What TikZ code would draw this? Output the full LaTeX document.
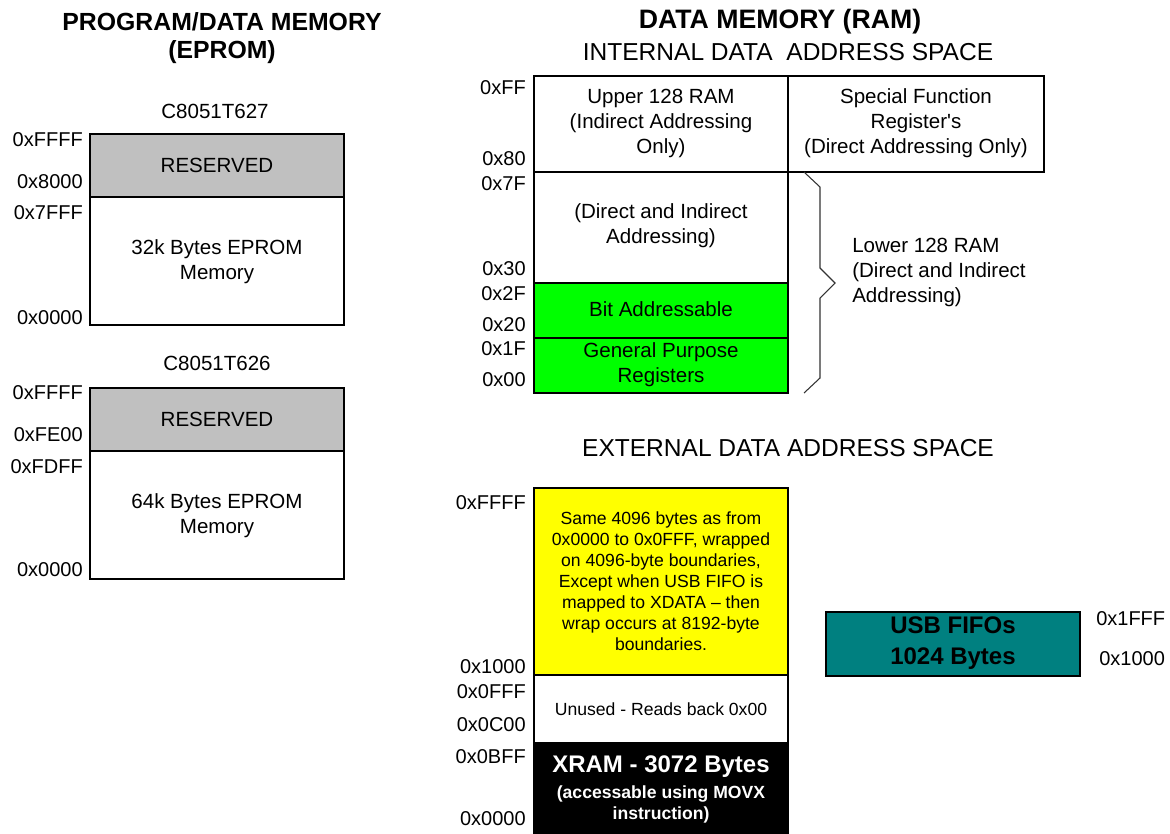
\documentclass[tikz,border=0pt]{standalone}
\usepackage{fontspec}
\setmainfont{Liberation Sans}
\definecolor{resgray}{HTML}{C0C0C0}
\definecolor{bitgreen}{HTML}{00FF00}
\definecolor{wrapyellow}{HTML}{FFFF00}
\definecolor{usbteal}{HTML}{008080}
\begin{document}
\begin{tikzpicture}[x=0.75pt,y=-0.75pt,
  box/.style={draw,line width=1.6pt},
  addr/.style={anchor=east,inner sep=0pt,font=\fontsize{15}{18}\selectfont},
  txt/.style={inner sep=0pt,align=center,font=\fontsize{15.4}{18.75}\selectfont},
  smalltxt/.style={inner sep=0pt,align=center,font=\fontsize{13.2}{15.75}\selectfont},
  ttl/.style={inner sep=0pt,align=center,font=\fontsize{18.6}{21}\selectfont\bfseries},
  subttl/.style={inner sep=0pt,font=\fontsize{18.4}{20}\selectfont}]
\useasboundingbox (0,0) rectangle (1170,833);
\node[ttl] (progttl) at (222,38) {PROGRAM/DATA MEMORY\\(EPROM)};
\node[txt] (t627) at (215,111) {C8051T627};
\draw[box,fill=resgray] (90,134) rectangle (344,197);
\draw[box,fill=white] (90,197) rectangle (344,325);
\node[txt] (res627) at (217,165) {RESERVED};
\node[txt] (mem627) at (217,262) {32k Bytes EPROM\\Memory};
\node[addr] (a627ffff) at (83,140) {0xFFFF};
\node[addr] (a627hi) at (83,182) {0x8000};
\node[addr] (a627lo) at (83,213) {0x7FFF};
\node[addr] (a627zero) at (83,318) {0x0000};
\node[txt] (t626) at (217,363) {C8051T626};
\draw[box,fill=resgray] (90,388) rectangle (344,451);
\draw[box,fill=white] (90,451) rectangle (344,579);
\node[txt] (res626) at (217,419) {RESERVED};
\node[txt] (mem626) at (217,516) {64k Bytes EPROM\\Memory};
\node[addr] (a626ffff) at (83,393) {0xFFFF};
\node[addr] (a626hi) at (83,435) {0xFE00};
\node[addr] (a626lo) at (83,467) {0xFDFF};
\node[addr] (a626zero) at (83,570) {0x0000};
\node[ttl,font=\fontsize{20}{22}\selectfont\bfseries] (ramttl) at (780,22) {DATA MEMORY (RAM)};
\node[subttl] (intttl) at (788,52) {INTERNAL DATA\ \ ADDRESS SPACE};
\draw[box] (534,76) rectangle (788,172);
\draw[box] (788,76) rectangle (1044,172);
\draw[box] (534,172) rectangle (788,283);
\draw[box,fill=bitgreen] (534,283) rectangle (788,338);
\draw[box,fill=bitgreen] (534,338) rectangle (788,393);
\draw[line width=0.8pt,black!80] (804,172) -- (820,187) -- (820,268) -- (835,283) -- (820,298) -- (820,378) -- (804,393);
\node[txt] (upper) at (661,123) {Upper 128 RAM\\(Indirect Addressing\\Only)};
\node[txt] (sfr) at (916,123) {Special Function\\Register\textquotesingle s\\(Direct Addressing Only)};
\node[txt] (direct) at (661,226) {(Direct and Indirect\\Addressing)};
\node[txt] (bitaddr) at (661,309) {Bit Addressable};
\node[txt] (gpr) at (661,365) {General Purpose\\Registers};
\node[txt,anchor=west,align=left] (lower) at (852,272) {Lower 128 RAM\\(Direct and Indirect\\Addressing)};
\node[addr] (iff) at (526,88) {0xFF};
\node[addr] (i80) at (526,159) {0x80};
\node[addr] (i7f) at (526,184) {0x7F};
\node[addr] (i30) at (526,269) {0x30};
\node[addr] (i2f) at (526,294) {0x2F};
\node[addr] (i20) at (526,325) {0x20};
\node[addr] (i1f) at (526,349) {0x1F};
\node[addr] (i00) at (526,380) {0x00};
\node[subttl] (extttl) at (788,448) {EXTERNAL DATA ADDRESS SPACE};
\draw[box,fill=wrapyellow] (534,488) rectangle (788,675);
\draw[box,fill=white] (534,675) rectangle (788,743);
\draw[box,fill=black] (534,743) rectangle (788,834);
\node[smalltxt] (wrap) at (661,581) {Same 4096 bytes as from\\0x0000 to 0x0FFF, wrapped\\on 4096-byte boundaries,\\Except when USB FIFO is\\mapped to XDATA -- then\\wrap occurs at 8192-byte\\boundaries.};
\node[smalltxt] (unused) at (661,709) {Unused - Reads back 0x00};
\node[ttl,text=white,font=\fontsize{18}{20}\selectfont\bfseries] (xram) at (661,767) {XRAM - 3072 Bytes};
\node[smalltxt,text=white,font=\fontsize{13.2}{15.75}\selectfont\bfseries] (movx) at (661,804) {(accessable using MOVX\\instruction)};
\node[addr] (effff) at (526,503) {0xFFFF};
\node[addr] (e1000) at (526,667) {0x1000};
\node[addr] (e0fff) at (526,692) {0x0FFF};
\node[addr] (e0c00) at (526,725) {0x0C00};
\node[addr] (e0bff) at (526,757) {0x0BFF};
\node[addr] (e0000) at (526,819) {0x0000};
\draw[box,fill=usbteal] (826,612) rectangle (1080,676);
\node[ttl,font=\fontsize{18}{23}\selectfont\bfseries] (usb) at (953,643) {USB FIFOs\\1024 Bytes};
\node[addr,anchor=west] (u1fff) at (1096,619) {0x1FFF};
\node[addr,anchor=west] (u1000) at (1099,659) {0x1000};
\end{tikzpicture}
\end{document}
